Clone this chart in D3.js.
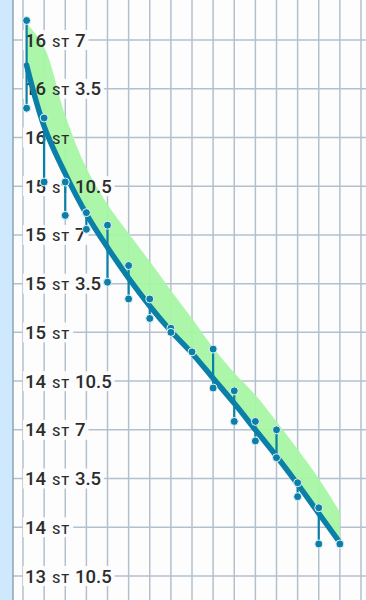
<!DOCTYPE html>
<html>
<head>
<meta charset="utf-8">
<script src="https://cdn.jsdelivr.net/npm/d3@7"></script>
<style>
body { margin: 0; background: #fdfdfd; }
svg { display: block; }
</style>
</head>
<body>
<svg width="366" height="600"></svg>
<script>
// days since start, weigh-ins (high / low of the day), trend and upper band, in lb
var days = [0.17, 1, 2, 3, 4, 5, 6, 7, 8, 9, 10, 11, 12, 13, 14, 15];
var hiWeight = [232.4, 225.4, 220.8, 218.6, 217.7, 214.8, 212.4, 210.3, 208.6, 208.8, 205.8, 203.6, 203.0, 199.2, 197.4, 194.8];
var loWeight = [226.1, 220.8, 218.4, 217.4, 213.6, 212.4, 211.0, 210.0, null, 206.0, 203.6, 202.2, 201.0, 198.2, 194.8, null];
var trend = [229.2, 224.8, 221.4, 218.5, 216.1, 213.9, 211.9, 210.1, 208.5, 206.7, 204.9, 203.0, 201.1, 199.1, 197.0, 194.9];
var bandTop = [232.2, 230.5, 225.6, 221.8, 219.2, 217.1, 215.1, 213.0, 211.0, 208.9, 207.1, 205.5, 203.6, 201.6, 199.5, 197.1];
var tickLb = [192.5, 196, 199.5, 203, 206.5, 210, 213.5, 217, 220.5, 224, 227.5, 231];
var gridDays = d3.range(0, 17);

var width = 366;
var height = 600;
var axisX = 13;

var x = d3.scaleLinear().domain([0, 16]).range([23, 361]);
var y = d3.scaleLinear().domain([231, 192.5]).range([40, 576]);

var svg = d3.select("svg");

var rows = days.map(function(d, i) {
  return { day: d, hi: hiWeight[i], lo: loWeight[i], trend: trend[i], top: bandTop[i] };
});

// left strip
svg.append("rect").attr("x", 0).attr("y", 0).attr("width", axisX).attr("height", height).attr("fill", "#cfe9fc");

// grid
svg.append("g").selectAll("line").data(gridDays).enter().append("line")
  .attr("x1", function(d) { return x(d); }).attr("x2", function(d) { return x(d); })
  .attr("y1", 0).attr("y2", height)
  .attr("stroke", "#b3c1cf").attr("stroke-width", 1.5);

svg.append("g").selectAll("line").data(tickLb).enter().append("line")
  .attr("x1", axisX).attr("x2", width)
  .attr("y1", function(d) { return y(d); }).attr("y2", function(d) { return y(d); })
  .attr("stroke", "#b3c1cf").attr("stroke-width", 1.5);

svg.append("line").attr("x1", axisX).attr("x2", axisX).attr("y1", 0).attr("y2", height)
  .attr("stroke", "#8ea3b7").attr("stroke-width", 1.5);

// labels
function stones(lb) {
  var st = Math.floor(lb / 14);
  var rem = lb - st * 14;
  return { st: st, rem: rem };
}

var labelG = svg.append("g");
var bgG = labelG.append("g");
var textG = svg.append("g");

var area = d3.area()
  .x(function(d) { return x(d.day); })
  .y0(function(d) { return y(d.trend); })
  .y1(function(d) { return y(d.top); })
  .curve(d3.curveCatmullRom.alpha(0.5));

var labels = textG.selectAll("text").data(tickLb).enter().append("text")
  .attr("x", 25)
  .attr("y", function(d) { return y(d) + 6.5; })
  .attr("fill", "#2c2c2c")
  .attr("font-family", "Roboto, 'Open Sans', sans-serif")
  .attr("font-weight", 500)
  .attr("font-size", 18.5);

labels.each(function(d) {
  var s = stones(d);
  var t = d3.select(this);
  t.append("tspan").text(s.st);
  t.append("tspan").attr("font-size", 13).attr("letter-spacing", 1.1).attr("dx", 2).text(" ST");
  if (s.rem > 0) t.append("tspan").text(" " + s.rem);
});

labels.each(function(d) {
  var b = this.getBBox();
  bgG.append("rect")
    .attr("x", 23).attr("y", y(d) - 10)
    .attr("width", b.x + b.width + 3 - 23).attr("height", 20)
    .attr("fill", "#fdfdfd").attr("opacity", 0.92);
});

// band over the label boxes, under the text
labelG.append("path").datum(rows)
  .attr("d", area)
  .attr("fill", "#a6f6a3")
  .attr("opacity", 0.95);

// trend, bars and dots on top
var dataG = svg.append("g");

var line = d3.line()
  .x(function(d) { return x(d.day); })
  .y(function(d) { return y(d.trend); })
  .curve(d3.curveCatmullRom.alpha(0.5));

dataG.append("path").datum(rows)
  .attr("d", line)
  .attr("fill", "none")
  .attr("stroke", "#0a7fa8")
  .attr("stroke-width", 5.5)
  .attr("stroke-linecap", "round");

dataG.selectAll(".bar").data(rows.filter(function(d) { return d.lo != null; })).enter().append("line")
  .attr("class", "bar")
  .attr("x1", function(d) { return x(d.day); }).attr("x2", function(d) { return x(d.day); })
  .attr("y1", function(d) { return y(d.hi); }).attr("y2", function(d) { return y(d.lo); })
  .attr("stroke", "#0a7fa8").attr("stroke-width", 2.2);

var dots = [];
rows.forEach(function(d) {
  dots.push({ day: d.day, v: d.hi });
  if (d.lo != null) dots.push({ day: d.day, v: d.lo });
});

dataG.selectAll(".dot").data(dots).enter().append("circle")
  .attr("class", "dot")
  .attr("cx", function(d) { return x(d.day); })
  .attr("cy", function(d) { return y(d.v); })
  .attr("r", 4)
  .attr("fill", "#0a7fa8")
  .attr("stroke", "#e8f4f8")
  .attr("stroke-width", 1);
</script>
</body>
</html>
